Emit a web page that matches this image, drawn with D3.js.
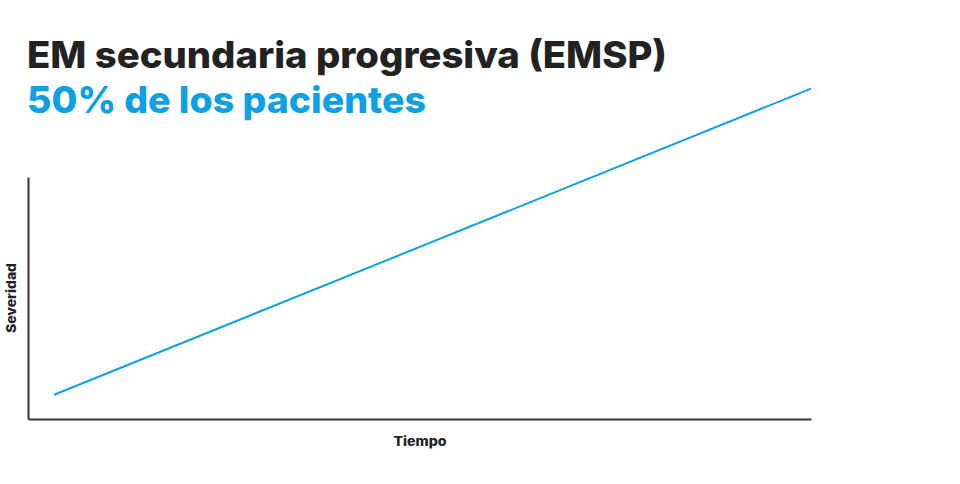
<!DOCTYPE html>
<html><head><meta charset="utf-8">
<script src="https://cdn.jsdelivr.net/npm/d3@7"></script>
<style>body{margin:0;background:#fff}svg{display:block}</style>
</head><body>
<script>
const title = "EM secundaria progresiva (EMSP)";
const subtitle = "50% de los pacientes";
const xLabel = "Tiempo";
const yLabel = "Severidad";
const tiempo = [1, 30];
const severidad = [10, 136.5];

const W = 960, H = 484;
const svg = d3.select("body").append("svg").attr("width", W).attr("height", H);
const x = d3.scaleLinear().domain([0, 30]).range([28, 811]);
const y = d3.scaleLinear().domain([0, 100]).range([419, 177]);
const FONT = "Inter";

function fitText(sel, target) {
  const w = sel.node().getComputedTextLength();
  if (w > 0) sel.attr("textLength", target).attr("lengthAdjust", "spacingAndGlyphs");
}

const t1 = svg.append("text").attr("x", 27).attr("y", 68)
  .attr("font-family", FONT).attr("font-weight", 800).attr("font-size", 37)
  .attr("fill", "#222").text(title);
fitText(t1, 640);
const t2 = svg.append("text").attr("x", 27).attr("y", 113)
  .attr("font-family", FONT).attr("font-weight", 800).attr("font-size", 37)
  .attr("fill", "#0ea0e4").text(subtitle);
fitText(t2, 399);

const gx = svg.append("g").attr("transform", "translate(0,419)")
  .call(d3.axisBottom(x).ticks(0).tickSize(0).tickSizeOuter(0));
gx.selectAll("text").remove();
gx.select(".domain").attr("stroke", "#333").attr("stroke-width", 2);
const gy = svg.append("g").attr("transform", "translate(28,0)")
  .call(d3.axisLeft(y).ticks(0).tickSize(0).tickSizeOuter(0));
gy.selectAll("text").remove();
gy.select(".domain").attr("stroke", "#333").attr("stroke-width", 2);

const pts = tiempo.map((t, i) => [t, severidad[i]]);
svg.append("path").datum(pts)
  .attr("d", d3.line().x(d => x(d[0])).y(d => y(d[1])))
  .attr("fill", "none").attr("stroke", "#0ea0e4").attr("stroke-width", 2);

const xl = svg.append("text").attr("x", 420).attr("y", 446).attr("text-anchor", "middle")
  .attr("font-family", FONT).attr("font-weight", 800).attr("font-size", 13)
  .attr("fill", "#222").text(xLabel);
fitText(xl, 53);
const yl = svg.append("text").attr("transform", "translate(16,298) rotate(-90)").attr("text-anchor", "middle")
  .attr("font-family", FONT).attr("font-weight", 800).attr("font-size", 13)
  .attr("fill", "#222").text(yLabel);
fitText(yl, 70);
</script>
</body></html>
